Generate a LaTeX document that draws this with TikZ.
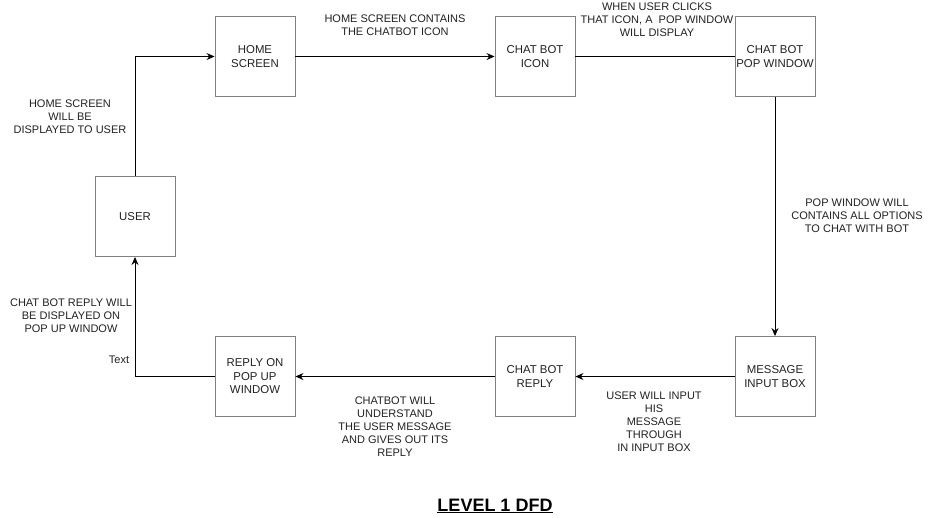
\documentclass[tikz,border=0pt]{standalone}
\usepackage{fontspec}
\setmainfont{Liberation Sans}
\usetikzlibrary{arrows.meta}
\definecolor{boxgray}{HTML}{808080}
\definecolor{txt}{HTML}{222222}
\begin{document}
\begin{tikzpicture}[x=1pt,y=-1pt,
  proc/.style={draw=boxgray,line width=0.9pt,minimum width=80pt,minimum height=80pt,inner sep=0pt,align=center,font=\fontsize{11.4}{13.5}\selectfont,text=txt},
  lbl/.style={align=center,font=\fontsize{11}{13}\selectfont,text=txt,inner sep=0pt},
  flow/.style={line width=1pt,-{Stealth[length=8pt,width=7pt]}},
  plain/.style={line width=1pt}]
\useasboundingbox[fill=white] (0,0) rectangle (931,517);
\node[proc] (home) at (255,56.5) {HOME\\SCREEN};
\node[proc] (icon) at (535,56.5) {CHAT BOT\\ICON};
\node[proc] (pop) at (775,56.5) {CHAT BOT\\POP WINDOW};
\node[proc] (user) at (135,216.5) {USER};
\node[proc] (reply) at (255,376.5) {REPLY ON\\POP UP\\WINDOW};
\node[proc] (cbreply) at (535,376.5) {CHAT BOT\\REPLY};
\node[proc] (msg) at (775,376.5) {MESSAGE\\INPUT BOX};
\draw[flow] (user.north) |- (home.west);
\draw[flow] (home.east) -- (icon.west);
\draw[plain] (icon.east) -- (pop.west);
\draw[flow] (pop.south) -- (msg.north);
\draw[flow] (msg.west) -- (cbreply.east);
\draw[flow] (cbreply.west) -- (reply.east);
\draw[flow] (reply.west) -| (user.south);
\node[lbl] (l1) at (70,117) {HOME SCREEN\\WILL BE\\DISPLAYED TO USER};
\node[lbl] (l2) at (395,25) {HOME SCREEN CONTAINS\\THE CHATBOT ICON};
\node[lbl] (l3) at (657,20) {WHEN USER CLICKS\\THAT ICON, A\ \ POP WINDOW\\WILL DISPLAY};
\node[lbl] (l4) at (857,216) {POP WINDOW WILL\\CONTAINS ALL OPTIONS\\TO CHAT WITH BOT};
\node[lbl] (l5) at (71,316) {CHAT BOT REPLY WILL\\BE DISPLAYED ON\\POP UP WINDOW};
\node[lbl] (l6) at (119,360) {Text};
\node[lbl] (l7) at (395,427) {CHATBOT WILL\\UNDERSTAND\\THE USER MESSAGE\\AND GIVES OUT ITS\\REPLY};
\node[lbl] (l8) at (654,422) {USER WILL INPUT\\HIS\\MESSAGE\\THROUGH\\IN INPUT BOX};
\node[font=\fontsize{18}{20}\selectfont\bfseries,inner sep=0pt] (title) at (495,506) {\underline{LEVEL 1 DFD}};
\end{tikzpicture}
\end{document}
